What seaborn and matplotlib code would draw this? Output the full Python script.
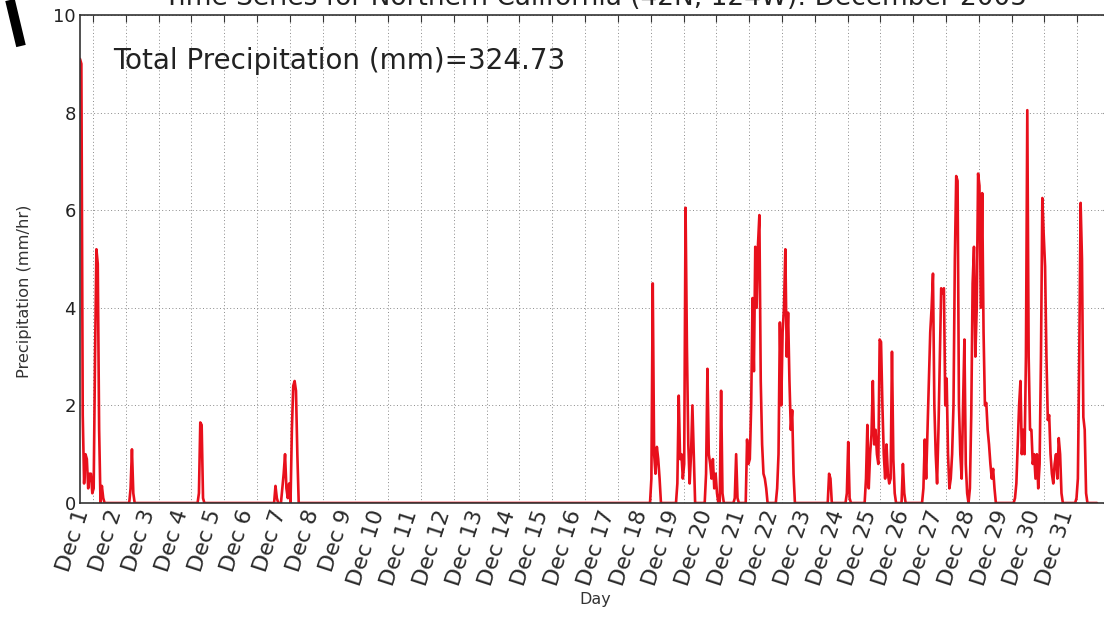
import numpy as np
import pandas as pd
import matplotlib
matplotlib.use("Agg")
import matplotlib.pyplot as plt
from matplotlib.lines import Line2D
import seaborn as sns

# Hourly precipitation rate (mm/hr); each storm is a start hour plus its hourly rates.
n_hours = 745
storm_start_hours = [0, 37, 87, 143, 418, 437, 458, 479, 488, 510, 548, 561, 575, 617, 651, 684, 729]
storm_rates = [
    [9.1, 9.0, 1.8, 0.4, 1.0, 0.9, 0.3, 0.6, 0.6, 0.2, 0.3, 3.0, 5.2, 4.9, 1.5, 0.0, 0.35, 0.1],
    [0.3, 1.1, 0.2],
    [0.2, 1.65, 1.6, 0.1],
    [0.35, 0.1, 0.0, 0.0, 0.0, 0.3, 0.6, 1.0, 0.3, 0.1, 0.4, 0.0, 1.5, 2.4, 2.5, 2.3, 1.0],
    [0.5, 4.5, 1.0, 0.6, 1.15, 0.9, 0.5],
    [0.4, 2.2, 0.9, 1.0, 0.5, 0.8, 6.05, 3.2, 1.2, 0.4, 1.0, 2.0, 1.0],
    [0.6, 2.75, 1.0, 0.8, 0.5, 0.9, 0.3, 0.6, 0.2, 0.0, 0.0, 2.3, 0.2],
    [0.1, 1.0, 0.1],
    [1.3, 0.8, 0.9, 2.0, 4.2, 2.7, 5.25, 4.0, 5.3, 5.9, 2.5, 1.2, 0.6, 0.5, 0.3],
    [0.3, 1.0, 3.7, 2.0, 3.5, 4.0, 5.2, 3.0, 3.9, 2.5, 1.5, 1.9, 0.6],
    [0.6, 0.5],
    [0.2, 1.25, 0.1],
    [0.5, 1.6, 0.3, 1.0, 1.4, 2.5, 1.2, 1.5, 1.0, 0.8, 3.35, 3.3, 2.0, 1.0, 0.5, 1.2,
     0.6, 0.4, 0.5, 3.1, 0.9, 0.2, 0.0, 0.0, 0.0, 0.0, 0.0, 0.8, 0.2],
    [0.3, 1.3, 0.5, 1.5, 2.5, 3.5, 4.0, 4.7, 2.0, 1.0, 0.4, 1.5, 3.0, 4.4, 4.3, 4.4, 2.0,
     2.55, 1.0, 0.3, 0.5, 1.0, 2.0, 5.0, 6.7, 6.6, 2.0, 1.0, 0.5, 2.0, 3.35, 0.8, 0.2],
    [0.3, 1.8, 4.5, 5.25, 3.0, 4.0, 6.75, 6.5, 4.0, 6.35, 3.5, 2.0, 2.05, 1.5, 1.2, 0.8,
     0.5, 0.7, 0.3],
    [0.1, 0.4, 1.2, 2.0, 2.5, 1.0, 1.5, 1.0, 3.0, 8.05, 3.0, 1.5, 1.5, 0.8, 1.0, 0.5, 1.0,
     0.3, 0.8, 3.0, 6.25, 5.5, 4.85, 3.0, 1.7, 1.8, 1.0, 0.6, 0.4, 0.8, 1.0, 0.5, 1.33,
     1.0, 0.2],
    [0.1, 0.5, 3.0, 6.15, 5.0, 1.76, 1.5, 0.2],
]

day_labels = [f"Dec {d}" for d in range(1, 32)]
first_day_hour = 9.5          # hour offset of Dec 1 within the series
total_precip_text = "Total Precipitation (mm)=324.73"
title_text = "Time Series for Northern California (42N, 124W): December 2005"

rate = np.zeros(n_hours)
for start, vals in zip(storm_start_hours, storm_rates):
    rate[start:start + len(vals)] = vals
df = pd.DataFrame({"hour": np.arange(n_hours), "precip": rate})

sns.set_style("white")
plt.rcParams["font.family"] = ["DejaVu Sans"]

fig = plt.figure(figsize=(11.04, 6.18), dpi=100)
ax = fig.add_axes([80 / 1104, 115 / 618, 1030 / 1104, 488 / 618])

sns.lineplot(data=df, x="hour", y="precip", ax=ax, color="#e8101c",
             linewidth=1.9, estimator=None)

ax.set_xlim(0, 753.5)
ax.set_ylim(0, 10)
ax.set_yticks(np.arange(0, 11, 2))
ax.set_yticklabels([str(v) for v in range(0, 11, 2)], fontsize=13, color="#222222")
tick_pos = first_day_hour + 24 * np.arange(len(day_labels))
ax.set_xticks(tick_pos)
ax.set_xticklabels(day_labels, rotation=72, ha="right", fontsize=16,
                   color="#2a2a2a")

ax.grid(True, linestyle=(0, (1.0, 2.5)), color="#8a8a8a", linewidth=0.7)
ax.tick_params(direction="in", length=5, width=0.8, top=True, right=True,
               color="#333333", pad=3)
for s in ax.spines.values():
    s.set_color("#333333")
    s.set_linewidth(1.2)

ax.set_xlabel("Day", fontsize=11.5, color="#333333", labelpad=3)
ax.set_ylabel("Precipitation (mm/hr)", fontsize=11.7, color="#333333")
ax.yaxis.set_label_coords(-0.047, 0.434)
ax.set_title(title_text, fontsize=19, color="#222222", pad=7)

ax.text(0.032, 0.905, total_precip_text, transform=ax.transAxes, fontsize=20,
        color="#222222", va="center", ha="left")

# pen stroke in the upper-left corner
fig.add_artist(Line2D([10 / 1104, 21 / 1104], [1.0, 1 - 46 / 618],
                      transform=fig.transFigure, color="black", linewidth=7,
                      solid_capstyle="butt"))

fig.savefig("out.png", dpi=100)
